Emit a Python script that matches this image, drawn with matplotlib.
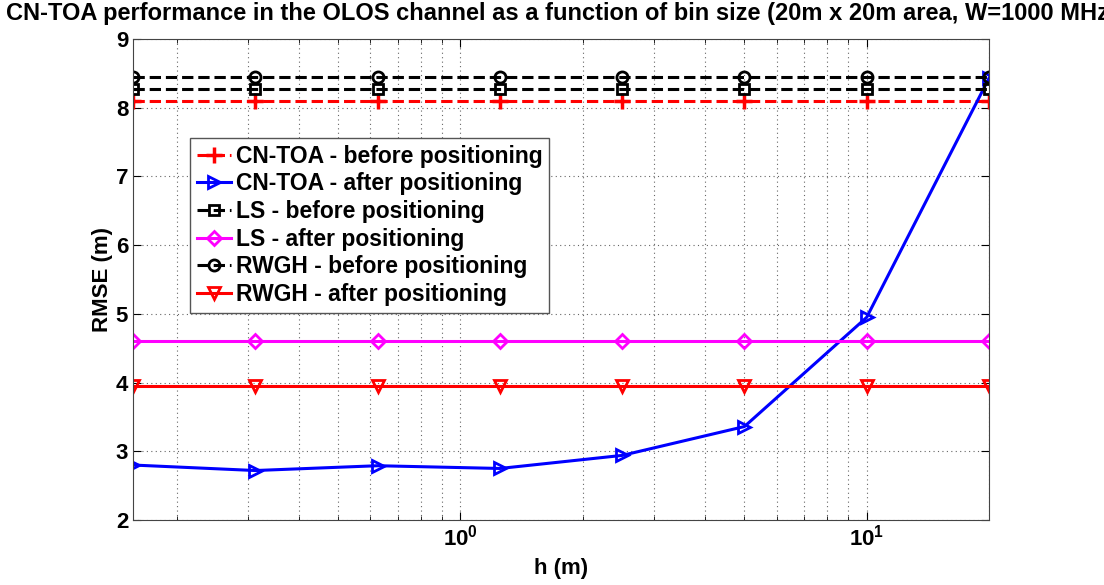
import matplotlib
matplotlib.use("Agg")
import matplotlib.pyplot as plt
import numpy as np

plt.rcParams["font.family"] = ["Liberation Sans", "DejaVu Sans"]
plt.rcParams["font.weight"] = "bold"

# bin size h (m)
h = [0.15625, 0.3125, 0.625, 1.25, 2.5, 5, 10, 20]

cntoa_before = [8.10] * 8
cntoa_after = [2.80, 2.72, 2.79, 2.75, 2.94, 3.36, 4.95, 8.43]
ls_before = [8.27] * 8
ls_after = [4.60] * 8
rwgh_before = [8.45] * 8
rwgh_after = [3.95] * 8

fig = plt.figure(figsize=(11.04, 5.85), dpi=100)
ax = fig.add_axes([133 / 1104, 1 - 520 / 585, (989 - 133) / 1104, (520 - 39) / 585])

lw = 2.2
ms = 8
mew = 2
ax.plot(h, cntoa_before, "r--", marker="+", lw=lw, ms=ms + 3, mew=2.5,
        label="CN-TOA - before positioning")
ax.plot(h, cntoa_after, "-", color="#0000ff", marker=">", lw=lw, ms=ms, mew=mew,
        mfc="none", label="CN-TOA - after positioning")
ax.plot(h, ls_before, "k--", marker="s", lw=lw, ms=ms - 1, mew=mew, mfc="none",
        label="LS - before positioning")
ax.plot(h, ls_after, "-", color="#ff00ff", marker="D", lw=lw, ms=ms - 1, mew=mew,
        mfc="none", label="LS - after positioning")
ax.plot(h, rwgh_before, "k--", marker="o", lw=lw, ms=ms, mew=mew, mfc="none",
        label="RWGH - before positioning")
ax.plot(h, rwgh_after, "-", color="#ff0000", marker="v", lw=lw, ms=ms, mew=mew,
        mfc="none", label="RWGH - after positioning")

ax.set_xscale("log")
ax.set_xlim(0.15625, 20)
ax.set_ylim(2, 9)
ax.set_yticks(range(2, 10))
ax.grid(True, which="both", axis="x", linestyle=(0, (1, 3)), color="#666666", lw=0.8)
ax.grid(True, which="major", axis="y", linestyle=(0, (1, 3)), color="#666666", lw=0.8)
ax.tick_params(which="both", direction="in", top=True, right=True, labelsize=16)
ax.tick_params(which="major", length=6)
ax.tick_params(which="minor", length=3)
for lab in ax.get_xticklabels() + ax.get_yticklabels():
    lab.set_fontweight("bold")
for s in ax.spines.values():
    s.set_color("#444444")

ax.set_xlabel("h (m)", fontsize=16, fontweight="bold", labelpad=5)
ax.set_ylabel("RMSE (m)", fontsize=16, fontweight="bold", labelpad=2)
ax.set_title("CN-TOA performance in the OLOS channel as a function of bin size "
             "(20m x 20m area, W=1000 MHz)", fontsize=17, fontweight="bold", pad=14)

leg = ax.legend(loc="upper left", bbox_to_anchor=(57 / 856, (520 - 138) / 481),
                prop={"weight": "bold", "size": 16.5}, fancybox=False,
                framealpha=1, edgecolor="#555555", handlelength=1.5,
                handletextpad=0.2, borderpad=0.3, labelspacing=0.2,
                borderaxespad=0)
leg.get_frame().set_linewidth(1.0)

fig.savefig("out.png", dpi=100)
